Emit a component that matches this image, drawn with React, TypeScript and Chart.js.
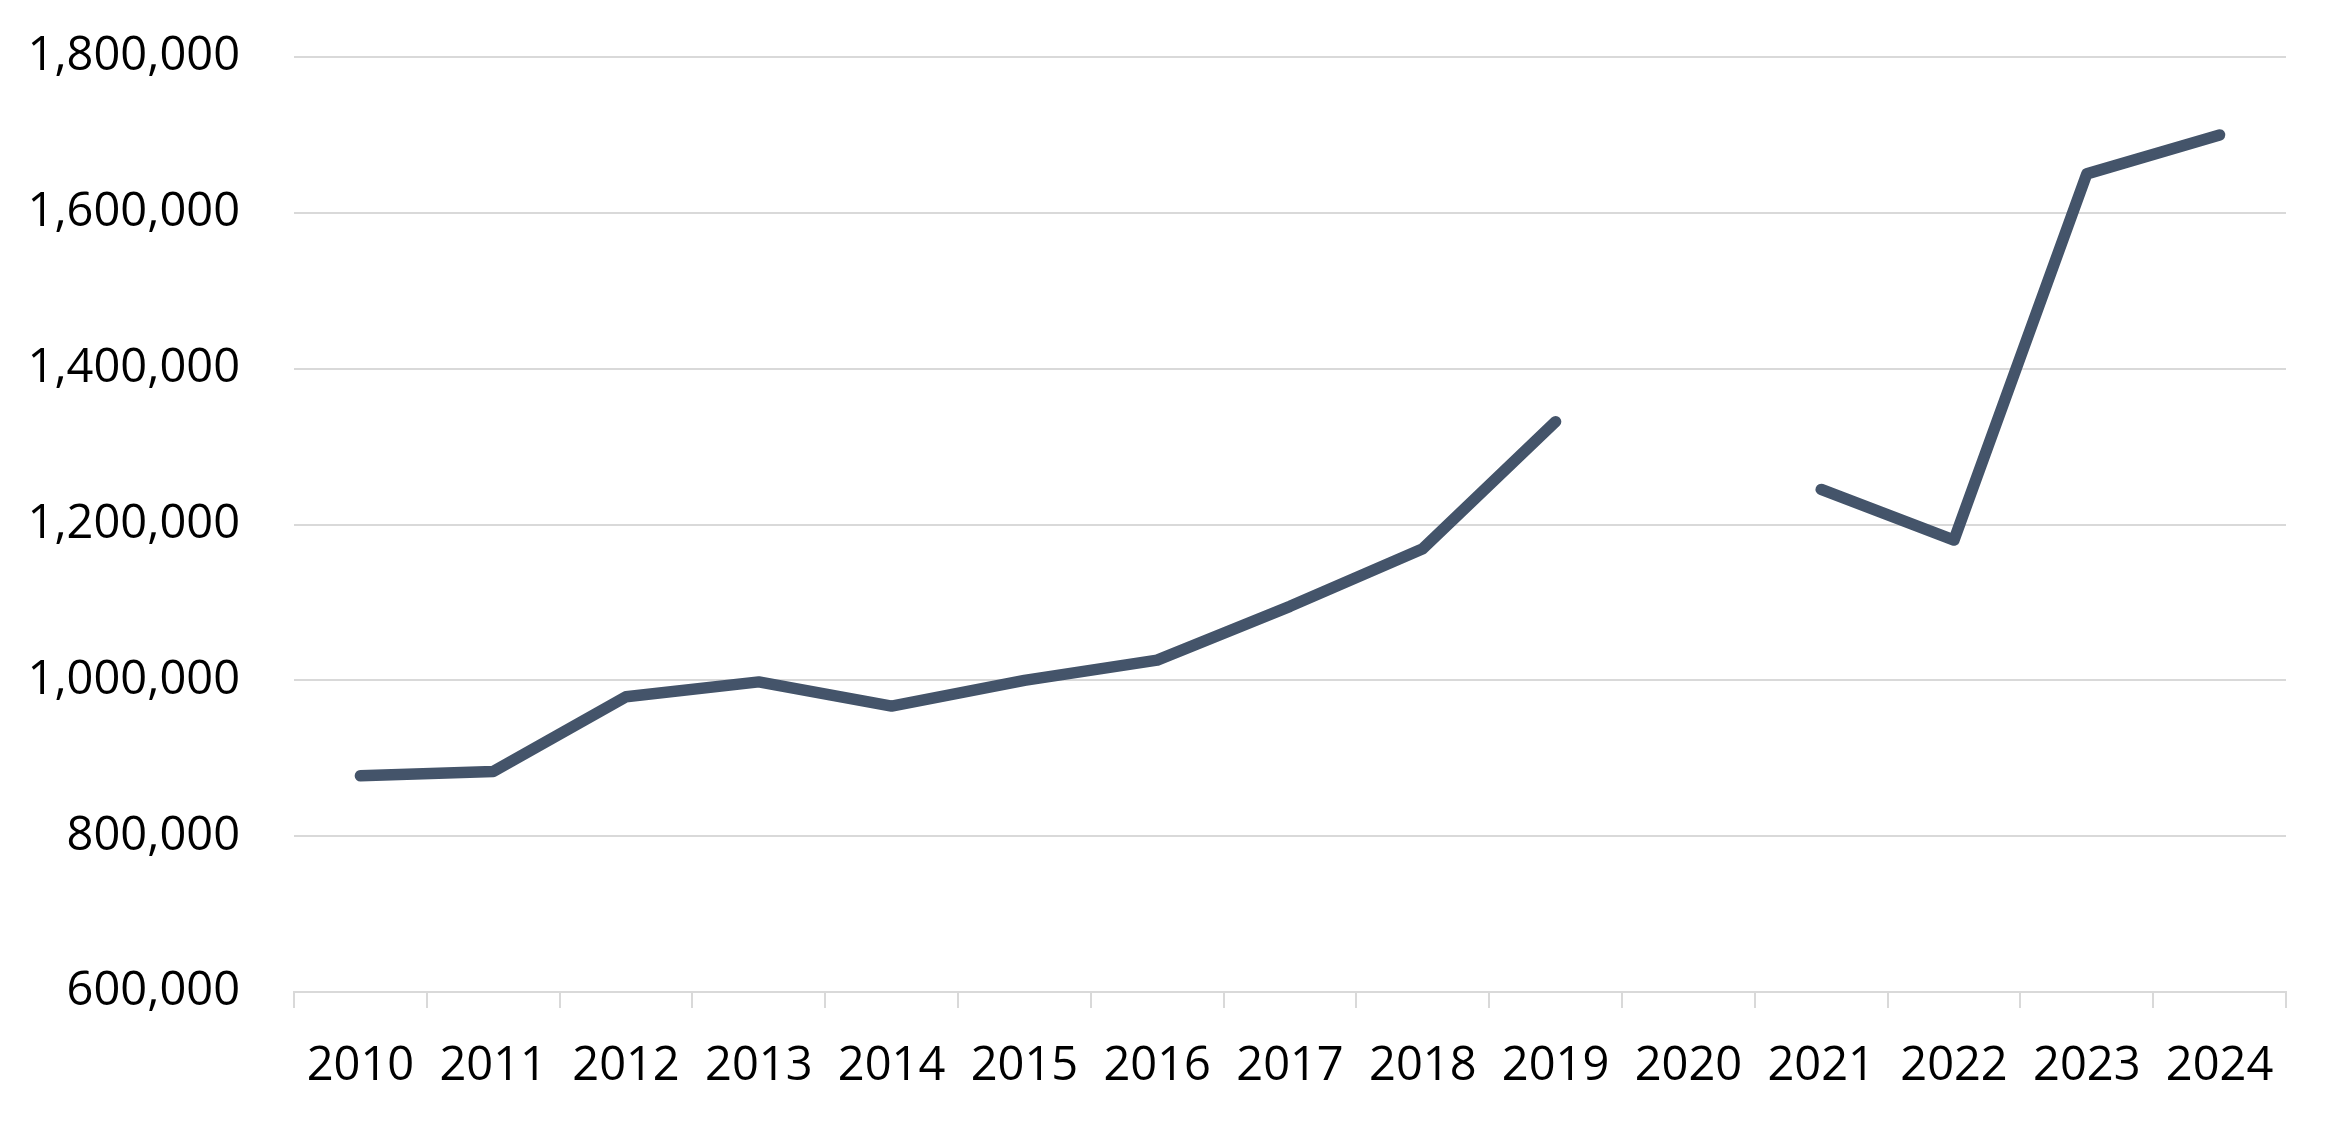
import React, { useEffect, useRef } from "react";
import { Chart, registerables } from "chart.js";

Chart.register(...registerables);

const categories = ["2010", "2011", "2012", "2013", "2014", "2015", "2016", "2017", "2018", "2019", "2020", "2021", "2022", "2023", "2024"];
const seriesValues: (number | null)[] = [877500, 883000, 979000, 998000, 967000, 1000000, 1026000, 1095000, 1169000, 1332000, null, 1245000, 1180000, 1650000, 1700000];
const yTickMin = 600000;
const yTickMax = 1800000;
const yTickStep = 200000;

export default function App() {
  const ref = useRef<HTMLCanvasElement | null>(null);
  useEffect(() => {
    if (!ref.current) return;
    const font = { family: "'Open Sans', sans-serif", size: 47 };
    const chart = new Chart(ref.current, {
      type: "line",
      data: {
        labels: categories,
        datasets: [
          {
            data: seriesValues,
            borderColor: "#44546A",
            backgroundColor: "#44546A",
            borderWidth: 11.5,
            borderCapStyle: "round",
            borderJoinStyle: "round",
            pointRadius: 0,
            pointHoverRadius: 0,
            spanGaps: false,
            tension: 0,
          },
        ],
      },
      options: {
        animation: false,
        responsive: true,
        maintainAspectRatio: false,
        devicePixelRatio: 1,
        layout: { padding: { top: 57, right: 51, left: 0, bottom: 0 } },
        plugins: { legend: { display: false }, tooltip: { enabled: false } },
        scales: {
          x: {
            type: "category",
            offset: true,
            grid: {
              display: true,
              offset: true,
              drawOnChartArea: false,
              drawTicks: true,
              tickLength: 16,
              color: "#d9d9d9",
              lineWidth: 2,
            },
            border: { display: true, color: "#d9d9d9", width: 2 },
            ticks: { color: "#000000", font, padding: 30, maxRotation: 0, autoSkip: false },
            afterFit: (scale: any) => {
              scale.height = 132;
            },
          },
          y: {
            min: yTickMin,
            max: yTickMax,
            grid: {
              color: "#d9d9d9",
              lineWidth: 2,
              drawTicks: true,
              tickLength: 54,
              tickColor: "rgba(0,0,0,0)",
            },
            border: { display: false },
            ticks: {
              stepSize: yTickStep,
              color: "#000000",
              font,
              padding: 0,
              callback: (v: any) => Number(v).toLocaleString("en-US"),
            },
            afterFit: (scale: any) => {
              scale.width = 294;
            },
          },
        },
      },
    });
    return () => chart.destroy();
  }, []);
  return (
    <div style={{ position: "absolute", left: 0, top: 0, width: 2337, height: 1124, background: "#ffffff" }}>
      <canvas ref={ref} />
    </div>
  );
}
